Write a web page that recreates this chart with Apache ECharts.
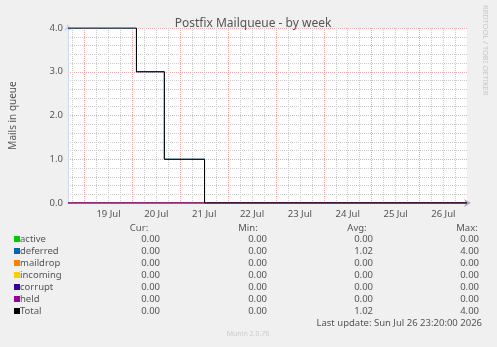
<!DOCTYPE html>
<html>
<head>
<meta charset="utf-8">
<script src="https://cdn.jsdelivr.net/npm/echarts@6/dist/echarts.min.js"></script>
<style>
  html, body { margin: 0; padding: 0; background: #f0f0f0; }
  #chart { width: 497px; height: 347px; }
</style>
</head>
<body>
<div id="chart"></div>
<script>
// time helpers (UTC, July 2026)
var jul = function (d, h, m) { return Date.UTC(2026, 6, d, h || 0, m || 0); };

// sample times: start, step changes, end
var times = [jul(18, 15, 40), jul(20, 2, 0), jul(20, 16, 0), jul(21, 12, 10), jul(26, 23, 50)];

var active   = [0, 0, 0, 0, 0];
var deferred = [4, 3, 1, 0, 0];
var maildrop = [0, 0, 0, 0, 0];
var incoming = [0, 0, 0, 0, 0];
var corrupt  = [0, 0, 0, 0, 0];
var held     = [0, 0, 0, 0, 0];
var total    = [4, 3, 1, 0, 0];

var names  = ["active", "deferred", "maildrop", "incoming", "corrupt", "held", "Total"];
var colors = ["#00cc00", "#0066b3", "#ff8000", "#ffcc00", "#330099", "#990099", "#000000"];
var curVals = ["0.00", "0.00", "0.00", "0.00", "0.00", "0.00", "0.00"];
var minVals = ["0.00", "0.00", "0.00", "0.00", "0.00", "0.00", "0.00"];
var avgVals = ["0.00", "1.02", "0.00", "0.00", "0.00", "0.00", "1.02"];
var maxVals = ["0.00", "4.00", "0.00", "0.00", "0.00", "0.00", "4.00"];

var FONT = "Noto Sans";
var chart = echarts.init(document.getElementById("chart"));

// grid lines: midnights (major) and every 6 hours (minor)
var midnights = [], noons = [], quarters = [];
for (var d = 19; d <= 26; d++) {
    midnights.push(jul(d));
    noons.push(jul(d, 12));
}
for (var d2 = 18; d2 <= 26; d2++) {
    [6, 12, 18].forEach(function (h) {
        var t = jul(d2, h);
        if (t > times[0] && t < times[times.length - 1]) quarters.push(t);
    });
}

var seriesData = [active, deferred, maildrop, incoming, corrupt, held, total];
var series = seriesData.map(function (vals, i) {
    return {
        name: names[i],
        type: "line",
        step: "end",
        xAxisIndex: 1,
        yAxisIndex: 1,
        symbol: "none",
        animation: false,
        lineStyle: { color: colors[i], width: 1 },
        data: vals.map(function (v, j) { return [times[j], v]; })
    };
});

// legend table below the plot
var graphics = [];
var rowY0 = 239, rowH = 12;
[["Cur:", 139], ["Min:", 248], ["Avg:", 357], ["Max:", 467]].forEach(function (h) {
    graphics.push({ type: "text", x: h[1], y: 228, style: { text: h[0], font: "9.5px " + FONT, fill: "#555", align: "center", verticalAlign: "middle" } });
});
names.forEach(function (n, i) {
    var y = rowY0 + i * rowH;
    graphics.push({ type: "rect", shape: { x: 14, y: y - 3, width: 6, height: 6 }, style: { fill: colors[i] } });
    graphics.push({ type: "text", x: 20, y: y, style: { text: n, font: "9.5px " + FONT, fill: "#555", verticalAlign: "middle" } });
    [[curVals, 160], [minVals, 267], [avgVals, 373], [maxVals, 479]].forEach(function (c) {
        graphics.push({ type: "text", x: c[1], y: y, style: { text: c[0][i], font: "9.5px " + FONT, fill: "#555", align: "right", verticalAlign: "middle" } });
    });
});
graphics.push({ type: "text", x: 482, y: 323, style: { text: "Last update: Sun Jul 26 23:20:00 2026", font: "9.5px " + FONT, fill: "#555", align: "right", verticalAlign: "middle" } });
graphics.push({ type: "text", x: 248, y: 334, style: { text: "Munin 2.0.76", font: "7px " + FONT, fill: "#ccc", align: "center", verticalAlign: "middle" } });
graphics.push({ type: "text", x: 485, y: 5, rotation: -Math.PI / 2, style: { text: "RRDTOOL / TOBI OETIKER", font: "7.5px " + FONT, fill: "#c8c8c8", align: "left", verticalAlign: "middle" } });

var minorLine = { color: "#cacaca", type: [1, 1], width: 1 };
var majorLine = { color: "#eeaaaa", type: [1, 1], width: 1 };

chart.setOption({
    backgroundColor: "#f0f0f0",
    animation: false,
    title: {
        text: "Postfix Mailqueue - by week",
        left: 248, top: 13, textAlign: "center",
        textStyle: { fontFamily: FONT, fontSize: 12, fontWeight: "normal", color: "#555" }
    },
    grid: { left: 67, right: 30, top: 28, bottom: 144, backgroundColor: "#fff", show: true, borderWidth: 0 },
    xAxis: [{
        type: "value",
        position: "bottom",
        min: times[0], max: times[times.length - 1],
        axisLine: { show: false },
        axisTick: { show: false, customValues: quarters },
        axisLabel: { show: false, customValues: quarters },
        splitLine: { show: true, lineStyle: minorLine }
    }, {
        type: "value",
        position: "bottom",
        min: times[0], max: times[times.length - 1],
        axisLine: { show: true, symbol: ["none", "arrow"], symbolSize: [6, 7], symbolOffset: [0, 4], lineStyle: { color: "#aab" } },
        axisTick: { show: false, customValues: midnights },
        axisLabel: {
            customValues: noons, margin: 6,
            fontFamily: FONT, fontSize: 9.5, color: "#555",
            formatter: function (v) { return new Date(v).getUTCDate() + " Jul"; }
        },
        splitLine: { show: true, lineStyle: majorLine }
    }],
    yAxis: [{
        // minor horizontal grid every 0.2
        type: "value",
        position: "left",
        min: 0, max: 4, interval: 0.2,
        axisLine: { show: false },
        axisTick: { show: false },
        axisLabel: { show: false },
        splitLine: { show: true, lineStyle: minorLine }
    }, {
        type: "value",
        position: "left",
        min: 0, max: 4, interval: 1,
        name: "Mails in queue", nameLocation: "middle", nameGap: 50,
        nameTextStyle: { fontFamily: FONT, fontSize: 10, color: "#555" },
        axisLine: { show: true, symbol: ["none", "arrow"], symbolSize: [6, 7], symbolOffset: [0, 4], lineStyle: { color: "#ccd6f0" } },
        axisTick: { show: false },
        axisLabel: { fontFamily: FONT, fontSize: 9.5, color: "#555", margin: 5, formatter: function (v) { return v.toFixed(1); } },
        splitLine: { show: true, lineStyle: majorLine }
    }],
    series: series,
    graphic: graphics
});
</script>
</body>
</html>
